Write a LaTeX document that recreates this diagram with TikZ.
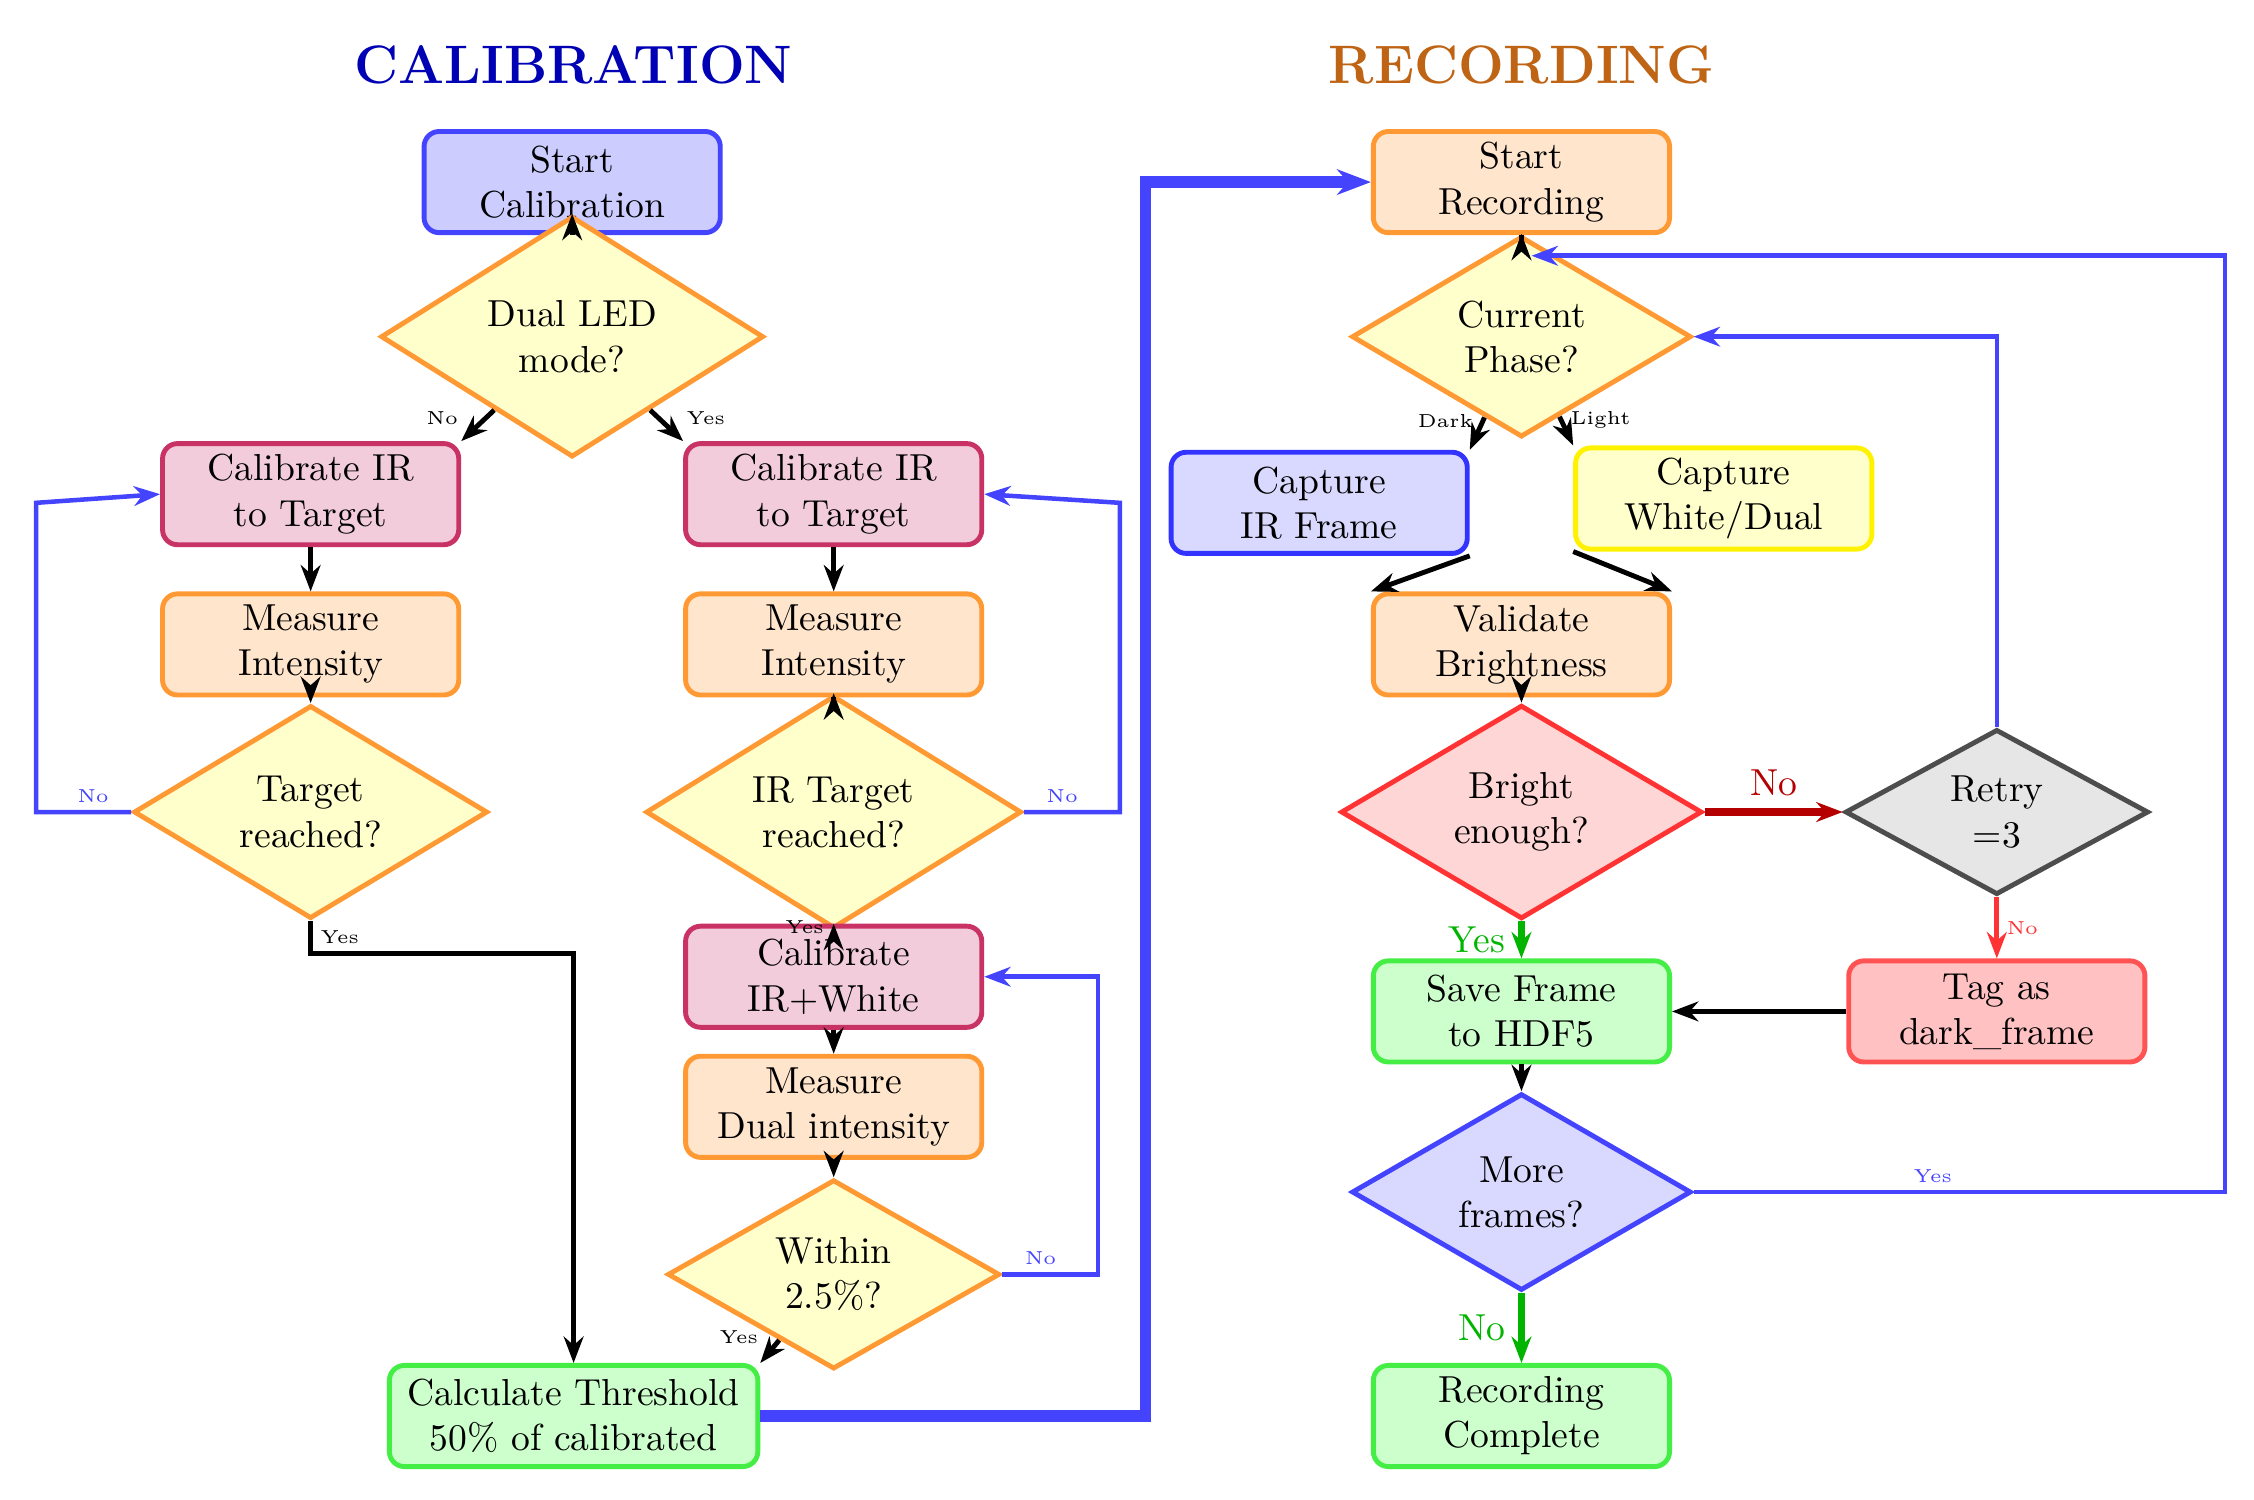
\documentclass[tikz,border=0pt]{standalone}
\usetikzlibrary{shapes.geometric,arrows.meta}
\newlength\px \setlength\px{0.0135cm}
\definecolor{lblue}{RGB}{68,68,255}
\definecolor{dblue}{RGB}{0,0,180}
\definecolor{brown}{RGB}{190,100,20}
\definecolor{orline}{RGB}{255,153,51}
\definecolor{orfill}{RGB}{255,229,204}
\definecolor{yefill}{RGB}{255,255,204}
\definecolor{pkline}{RGB}{200,50,100}
\definecolor{pkfill}{RGB}{242,204,219}
\definecolor{grline}{RGB}{68,238,68}
\definecolor{grfill}{RGB}{204,255,204}
\definecolor{rdline}{RGB}{255,51,51}
\definecolor{rdfill}{RGB}{255,214,214}
\definecolor{gyline}{RGB}{77,77,77}
\definecolor{gyfill}{RGB}{230,230,230}
\definecolor{dred}{RGB}{180,0,0}
\definecolor{dgreen}{RGB}{0,180,0}
\tikzset{
  box/.style={rectangle,rounded corners=4pt,line width=1.3pt,align=center,
    minimum width=205\px,minimum height=70\px,inner sep=1pt},
  dec/.style={diamond,line width=1.3pt,align=center,inner sep=0pt},
  blbox/.style={box,draw=lblue,fill=blue!20},
  orbox/.style={box,draw=orline,fill=orfill},
  pkbox/.style={box,draw=pkline,fill=pkfill},
  grbox/.style={box,draw=grline,fill=grfill},
  ordec/.style={dec,draw=orline,fill=yefill},
  flow/.style={-{Stealth[length=7pt]},line width=1.3pt},
  loopb/.style={-{Stealth[length=7pt]},line width=1.2pt,draw=lblue},
  lab/.style={font=\tiny,inner sep=2pt}
}
\begin{document}
\begin{tikzpicture}[x=\px,y=-\px]
\useasboundingbox (0,0) rectangle (1560,1038);
% titles
\node[font=\Large\bfseries,text=dblue] (tc) at (397,45) {CALIBRATION};
\node[font=\Large\bfseries,text=brown] (tr) at (1053,45) {RECORDING};
% calibration
\node[blbox] (startC) at (396,126) {Start\\Calibration};
\node[ordec,minimum width=265\px,minimum height=120\px] (dual) at (396,233) {Dual LED\\mode?};
\node[pkbox] (calL) at (215,342) {Calibrate IR\\to Target};
\node[orbox] (measL) at (215,446) {Measure\\Intensity};
\node[ordec,minimum width=245\px,minimum height=112\px] (targL) at (215,562) {Target\\reached?};
\node[pkbox] (calR) at (577,342) {Calibrate IR\\to Target};
\node[orbox] (measR) at (577,446) {Measure\\Intensity};
\node[ordec,minimum width=260\px,minimum height=115\px] (targR) at (577,562) {IR Target\\reached?};
\node[pkbox] (calW) at (577,676) {Calibrate\\IR+White};
\node[orbox] (measD) at (577,766) {Measure\\Dual intensity};
\node[ordec,minimum width=230\px,minimum height=105\px] (within) at (577,882) {Within\\2.5\%?};
\node[grbox,minimum width=255\px] (thresh) at (397,980) {Calculate Threshold\\50\% of calibrated};
\draw[flow] (startC) -- (dual);
\draw[flow] (dual) -- node[lab,pos=0.8,above left]{No} (calL.north east);
\draw[flow] (dual) -- node[lab,pos=0.8,above right]{Yes} (calR.north west);
\draw[flow] (calL) -- (measL);
\draw[flow] (measL) -- (targL);
\draw[loopb] (targL.west) -- node[lab,text=lblue,above,pos=0.4]{No} (25,562) -- (25,348) -- (calL.west);
\draw[flow] (targL.south) -- node[lab,right,pos=0.5]{Yes} (215,660) -- (397,660) -- (thresh.north);
\draw[flow] (calR) -- (measR);
\draw[flow] (measR) -- (targR);
\draw[loopb] (targR.east) -- node[lab,text=lblue,above,pos=0.4]{No} (775,562) -- (775,348) -- (calR.east);
\draw[flow] (targR) -- node[lab,left]{Yes} (calW);
\draw[flow] (calW) -- (measD);
\draw[flow] (measD) -- (within);
\draw[loopb] (within.east) -- node[lab,text=lblue,above,pos=0.4]{No} (760,882) -- (760,676) -- (calW.east);
\draw[flow] (within) -- node[lab,pos=0.6,above left]{Yes} (thresh.north east);
% recording
\node[orbox] (startR) at (1053,126) {Start\\Recording};
\node[ordec,minimum width=235\px,minimum height=108\px] (phase) at (1053,233) {Current\\Phase?};
\node[box,draw=blue!80,fill=blue!15] (capIR) at (913,348) {Capture\\IR Frame};
\node[box,draw=yellow,fill=yefill] (capW) at (1193,345) {Capture\\White/Dual};
\node[orbox] (valid) at (1053,446) {Validate\\Brightness};
\node[dec,draw=rdline,fill=rdfill,minimum width=250\px,minimum height=112\px] (bright) at (1053,562) {Bright\\enough?};
\node[dec,draw=gyline,fill=gyfill,minimum width=210\px,minimum height=95\px] (retry) at (1382,562) {Retry\\=3};
\node[grbox] (save) at (1053,700) {Save Frame\\to HDF5};
\node[box,draw=rdline!85,fill=rdfill!90!red] (tag) at (1382,700) {Tag as\\dark\_frame};
\node[dec,draw=lblue,fill=blue!15,minimum width=235\px,minimum height=105\px] (more) at (1053,825) {More\\frames?};
\node[grbox] (complete) at (1053,980) {Recording\\Complete};
\draw[-{Stealth[length=9pt]},line width=3pt,draw=lblue] (thresh.east) -- (793,980) -- (793,126) -- (startR.west);
\draw[flow] (startR) -- (phase);
\draw[flow] (phase) -- node[lab,pos=0.1,left]{Dark} (capIR.north east);
\draw[flow] (phase) -- node[lab,pos=0.1,right]{Light} (capW.north west);
\draw[flow] (capIR.south east) -- (valid.north west);
\draw[flow] (capW.south west) -- (valid.north east);
\draw[flow] (valid) -- (bright);
\draw[flow,draw=dred,line width=2pt] (bright) -- node[above,text=dred]{No} (retry);
\draw[loopb] (retry.north) -- (1382,233) -- (phase.east);
\draw[flow,draw=rdline] (retry) -- node[lab,right,text=rdline]{No} (tag);
\draw[flow] (tag) -- (save);
\draw[flow,draw=dgreen,line width=2pt] (bright) -- node[left,text=dgreen]{Yes} (save);
\draw[flow] (save) -- (more);
\draw[loopb] (more.east) -- node[lab,text=lblue,above,pos=0.45]{Yes} (1540,825) -- (1540,177) -- (1060,177);
\draw[flow,draw=dgreen,line width=2pt] (more) -- node[left,text=dgreen]{No} (complete);
\end{tikzpicture}
\end{document}
